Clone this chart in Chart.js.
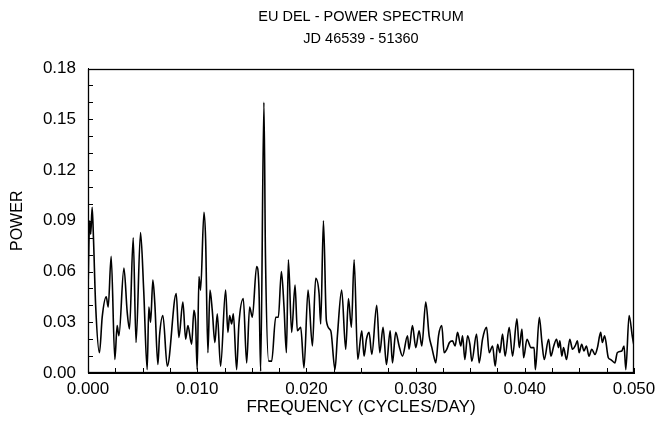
<!DOCTYPE html>
<html><head><meta charset="utf-8">
<script src="https://cdn.jsdelivr.net/npm/chart.js@4.4.0/dist/chart.umd.min.js"></script>
<style>html,body{margin:0;padding:0;background:#fff}#wrap{width:672px;height:440px}</style>
</head><body><div id="wrap"><canvas id="c" width="672" height="440"></canvas></div>
<script>
const titleLines = ['EU DEL - POWER SPECTRUM', 'JD 46539 - 51360'];
const xAxisTitle = 'FREQUENCY (CYCLES/DAY)';
const yAxisTitle = 'POWER';
const xTickLabels = ['0.000','0.010','0.020','0.030','0.040','0.050'];
const yTickLabels = ['0.00','0.03','0.06','0.09','0.12','0.15','0.18'];

const frequency = [
0.00000,0.00015,0.00025,0.00038,0.00050,0.00070,0.00105,0.00130,0.00167,0.00185,
0.00212,0.00246,0.00267,0.00283,0.00329,0.00359,0.00380,0.00414,0.00440,0.00481,
0.00510,0.00542,0.00557,0.00573,0.00594,0.00612,0.00640,0.00655,0.00686,0.00726,
0.00808,0.00832,0.00869,0.00894,0.00915,0.00949,0.00970,0.00985,0.01000,0.01016,
0.01031,0.01062,0.01077,0.01098,0.01117,0.01138,0.01162,0.01184,0.01214,0.01260,
0.01281,0.01297,0.01315,0.01331,0.01361,0.01382,0.01422,0.01453,0.01480,0.01505,
0.01544,0.01566,0.01581,0.01611,0.01625,0.01655,0.01682,0.01719,0.01743,0.01771,
0.01795,0.01817,0.01835,0.01865,0.01896,0.01917,0.01948,0.01978,0.02015,0.02055,
0.02085,0.02116,0.02131,0.02156,0.02183,0.02223,0.02262,0.02284,0.02323,0.02360,
0.02385,0.02412,0.02437,0.02470,0.02507,0.02528,0.02550,0.02574,0.02599,0.02644,
0.02672,0.02702,0.02733,0.02767,0.02788,0.02818,0.02849,0.02880,0.02926,0.02940,
0.02971,0.03002,0.03032,0.03057,0.03093,0.03124,0.03149,0.03170,0.03185,0.03210,
0.03240,0.03261,0.03285,0.03310,0.03338,0.03362,0.03384,0.03414,0.03430,0.03451,
0.03476,0.03497,0.03515,0.03558,0.03582,0.03613,0.03650,0.03674,0.03705,0.03729,
0.03751,0.03772,0.03796,0.03820,0.03857,0.03888,0.03928,0.03949,0.03974,0.03989,
0.04020,0.04057,0.04085,0.04097,0.04133,0.04157,0.04178,0.04218,0.04239,0.04265,
0.04291,0.04309,0.04321,0.04339,0.04355,0.04382,0.04412,0.04437,0.04461,0.04482,
0.04497,0.04521,0.04542,0.04564,0.04588,0.04613,0.04643,0.04665,0.04695,0.04710,
0.04731,0.04765,0.04786,0.04825,0.04847,0.04888,0.04909,0.04925,0.04955,0.04986,
0.05000];

const power = [
0.048,0.090,0.082,0.098,0.080,0.040,0.012,0.033,0.045,0.039,
0.069,0.008,0.028,0.022,0.062,0.036,0.026,0.080,0.018,0.083,
0.049,0.002,0.039,0.030,0.055,0.041,0.005,0.022,0.034,0.004,
0.047,0.021,0.042,0.020,0.028,0.017,0.037,0.030,0.002,0.057,
0.049,0.095,0.079,0.012,0.049,0.037,0.018,0.035,0.004,0.049,
0.024,0.034,0.029,0.035,0.002,0.029,0.044,0.006,0.039,0.033,
0.063,0.049,0.001,0.160,0.070,0.007,0.007,0.033,0.033,0.060,
0.039,0.012,0.067,0.024,0.052,0.025,0.027,0.003,0.049,0.016,
0.056,0.047,0.029,0.090,0.031,0.025,0.002,0.022,0.049,0.014,
0.044,0.027,0.067,0.008,0.025,0.010,0.020,0.024,0.011,0.040,
0.012,0.027,0.005,0.025,0.006,0.024,0.016,0.010,0.022,0.014,
0.028,0.015,0.025,0.016,0.042,0.022,0.015,0.009,0.006,0.022,
0.028,0.012,0.014,0.018,0.019,0.016,0.024,0.016,0.022,0.008,
0.022,0.017,0.007,0.023,0.006,0.020,0.027,0.012,0.016,0.004,
0.017,0.012,0.023,0.010,0.027,0.010,0.032,0.015,0.026,0.009,
0.020,0.015,0.015,0.002,0.033,0.018,0.008,0.020,0.010,0.016,
0.020,0.015,0.019,0.010,0.015,0.008,0.020,0.014,0.016,0.019,
0.012,0.017,0.013,0.016,0.010,0.014,0.011,0.015,0.024,0.018,
0.022,0.009,0.008,0.006,0.012,0.013,0.016,0.002,0.034,0.021,
0.016];

const points = frequency.map((f, i) => ({x: f, y: power[i]}));
const FONT = 'Liberation Sans, Arial, sans-serif';

function near(v, step){ const k = Math.round(v/step); return Math.abs(v - k*step) < 1e-9 ? k : -1; }

const framePlugin = {
  id: 'frame',
  afterDatasetsDraw(chart){
    const {ctx, chartArea: a, scales: {x, y}} = chart;
    ctx.save();
    ctx.strokeStyle = '#000'; ctx.lineWidth = 1.3;
    ctx.strokeRect(Math.round(a.left)+0.5, Math.round(a.top)+0.5, Math.round(a.right-a.left)-1, Math.round(a.bottom-a.top)-1);
    ctx.lineWidth = 1;
    ctx.beginPath();
    x.ticks.forEach(t => { const px = Math.round(x.getPixelForValue(t.value))+0.5; ctx.moveTo(px, a.bottom); ctx.lineTo(px, a.bottom-5); });
    y.ticks.forEach(t => { const py = Math.round(y.getPixelForValue(t.value))+0.5; ctx.moveTo(a.left, py); ctx.lineTo(a.left+5, py); });
    ctx.stroke();
    ctx.restore();
  }
};

new Chart(document.getElementById('c'), {
  type: 'line',
  data: { datasets: [{
    data: points, borderColor: '#000', borderWidth: 1.6, pointRadius: 0,
    cubicInterpolationMode: 'monotone', fill: false
  }]},
  options: {
    responsive: false, animation: false, devicePixelRatio: 1,
    layout: { padding: { left: 0, right: 38, top: 0, bottom: 0 } },
    plugins: {
      legend: { display: false }, tooltip: { enabled: false },
      title: { display: true, text: titleLines, fullSize: false, color: '#000',
        font: { family: FONT, size: 14.5, weight: 'normal', lineHeight: 1.52 },
        padding: { top: 6, bottom: 18.5 } }
    },
    scales: {
      x: { type: 'linear', min: 0, max: 0.05,
        afterFit: s => { s.height = 67; },
        ticks: { stepSize: 0.0025, autoSkip: false, maxRotation: 0, color: '#000', padding: 6,
          font: { family: FONT, size: 17 },
          callback: v => { const k = near(v, 0.01); return k >= 0 ? xTickLabels[k] : ''; } },
        grid: { display: true, drawOnChartArea: false, drawTicks: false },
        border: { display: true, color: '#000' },
        title: { display: true, text: xAxisTitle, color: '#000', font: { family: FONT, size: 17 }, padding: { top: 0, bottom: 22 } }
      },
      y: { min: 0, max: 0.18,
        afterFit: s => { s.width = 88; },
        ticks: { stepSize: 0.01, autoSkip: false, color: '#000', padding: 12,
          font: { family: FONT, size: 17 },
          callback: v => { const k = near(v, 0.03); return k >= 0 ? yTickLabels[k] : ''; } },
        grid: { display: true, drawOnChartArea: false, drawTicks: false },
        border: { display: true, color: '#000' },
        title: { display: true, text: yAxisTitle, color: '#000', font: { family: FONT, size: 16 }, padding: { top: 8, bottom: 0 } }
      }
    }
  },
  plugins: [framePlugin]
});
</script></body></html>
